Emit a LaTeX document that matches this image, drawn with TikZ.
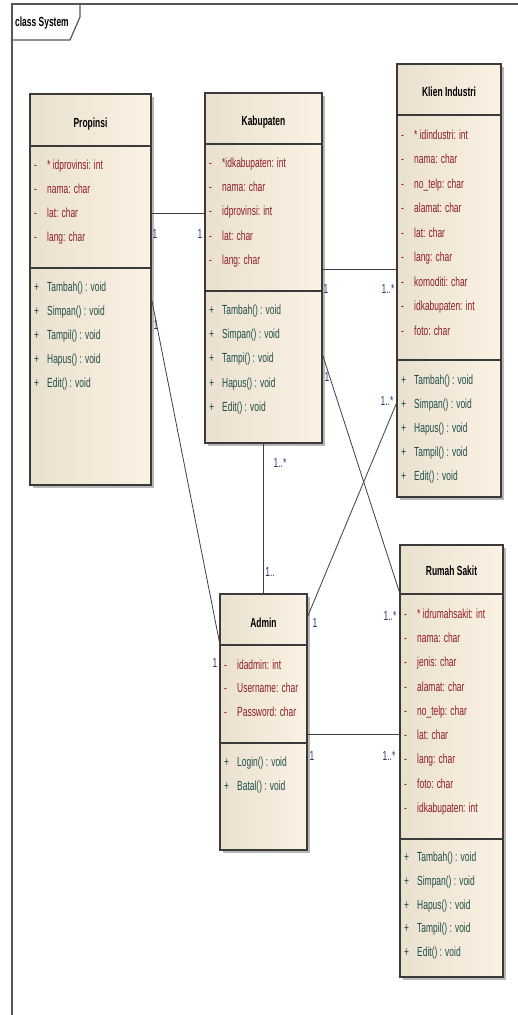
\documentclass[tikz,border=0pt]{standalone}
\usepackage{fontspec}
\setmainfont{Liberation Sans}[FakeStretch=0.64]
\usetikzlibrary{shadows}
\definecolor{creamL}{HTML}{EAE0CF}
\definecolor{creamR}{HTML}{FCF2E4}
\definecolor{boxline}{HTML}{3A3A3A}
\definecolor{attrcol}{HTML}{8E1B2C}
\definecolor{opcol}{HTML}{1E4F4A}
\definecolor{multcol}{HTML}{34346E}
\definecolor{framecol}{HTML}{555555}
\tikzset{
  txt/.style={inner sep=0pt, font=\fontsize{13.2}{15}\selectfont, text height=9.5pt, text depth=2.6pt},
  classbox/.style={draw=boxline, line width=1.4pt, left color=creamL, right color=creamR,
    anchor=north west, inner sep=0pt, outer sep=0pt,
    drop shadow={shadow xshift=2.5pt, shadow yshift=-2.5pt, fill=black!35, opacity=0.8}},
  compline/.style={draw=boxline, line width=1.4pt},
  ctitle/.style={txt, font=\fontsize{13.2}{15}\selectfont\bfseries, text=black},
  attr/.style={txt, anchor=west, text=attrcol},
  op/.style={txt, anchor=west, text=opcol},
  assoc/.style={draw=black!75, line width=0.8pt},
  mult/.style={txt, text=multcol},
}
% #1 prefix, #2 marker x, #3 text x, #4 first y, #5 step, #6 marker, #7 style, #8 list
\newcommand\classrows[8]{%
  \foreach \t [count=\i] in {#8} {%
    \node[#7] (#1m\i) at (#2,{#4+(\i-1)*#5}) {#6};
    \node[#7] (#1t\i) at (#3,{#4+(\i-1)*#5}) {\t};
  }%
}
\begin{document}
\begin{tikzpicture}[x=1pt,y=-1pt]
\fill[white] (0,0) rectangle (518,1015);
\useasboundingbox (0,0) rectangle (518,1015);

% frame
\draw[framecol, line width=1.5pt] (12,1015) -- (12,4) -- (518,4);
\draw[framecol, line width=1.2pt] (12,40) -- (70,40) -- (80,17) -- (80,4);
\node[ctitle, anchor=west] (frametitle) at (15,23) {class System};

% boxes
\node[classbox, minimum width=121pt, minimum height=391pt] (prop) at (30,94) {};
\node[classbox, minimum width=117pt, minimum height=350pt] (kab) at (205,93) {};
\node[classbox, minimum width=104pt, minimum height=433pt] (klien) at (397,64) {};
\node[classbox, minimum width=103pt, minimum height=432pt] (rs) at (400,545) {};
\node[classbox, minimum width=87pt, minimum height=256pt] (admin) at (220,594) {};

% compartments
\draw[compline] ([yshift=-52pt]prop.north west) -- ([yshift=-52pt]prop.north east);
\draw[compline] ([yshift=-174pt]prop.north west) -- ([yshift=-174pt]prop.north east);
\draw[compline] ([yshift=-51pt]kab.north west) -- ([yshift=-51pt]kab.north east);
\draw[compline] ([yshift=-198pt]kab.north west) -- ([yshift=-198pt]kab.north east);
\draw[compline] ([yshift=-51pt]klien.north west) -- ([yshift=-51pt]klien.north east);
\draw[compline] ([yshift=-296pt]klien.north west) -- ([yshift=-296pt]klien.north east);
\draw[compline] ([yshift=-49pt]rs.north west) -- ([yshift=-49pt]rs.north east);
\draw[compline] ([yshift=-294pt]rs.north west) -- ([yshift=-294pt]rs.north east);
\draw[compline] ([yshift=-51pt]admin.north west) -- ([yshift=-51pt]admin.north east);
\draw[compline] ([yshift=-149pt]admin.north west) -- ([yshift=-149pt]admin.north east);

% titles
\node[ctitle] (propT) at (90.5,124) {Propinsi};
\node[ctitle] (kabT) at (263.5,122) {Kabupaten};
\node[ctitle] (klienT) at (449,93) {Klien Industri};
\node[ctitle] (rsT) at (451.5,572) {Rumah Sakit};
\node[ctitle] (adminT) at (263.5,624) {Admin};

% Propinsi
\classrows{pa}{34}{47}{166}{24}{-}{attr}{* idprovinsi: int, nama: char, lat: char, lang: char}
\classrows{po}{34}{47}{288}{24}{+}{op}{Tambah() : void, Simpan() : void, Tampil() : void, Hapus() : void, Edit() : void}
% Kabupaten
\classrows{ka}{209}{222}{164}{24.25}{-}{attr}{*idkabupaten: int, nama: char, idprovinsi: int, lat: char, lang: char}
\classrows{ko}{209}{222}{311}{24.2}{+}{op}{Tambah() : void, Simpan() : void, Tampi() : void, Hapus() : void, Edit() : void}
% Klien Industri
\classrows{ia}{401}{414}{136}{24.5}{-}{attr}{* idindustri: int, nama: char, no\_telp: char, alamat: char, lat: char, lang: char, komoditi: char, idkabupaten: int, foto: char}
\classrows{io}{401}{414}{381}{24}{+}{op}{Tambah() : void, Simpan() : void, Hapus() : void, Tampil() : void, Edit() : void}
% Rumah Sakit
\classrows{ra}{404}{417}{615}{24.25}{-}{attr}{* idrumahsakit: int, nama: char, jenis: char, alamat: char, no\_telp: char, lat: char, lang: char, foto: char, idkabupaten: int}
\classrows{ro}{404}{417}{858}{23.8}{+}{op}{Tambah() : void, Simpan() : void, Hapus() : void, Tampil() : void, Edit() : void}
% Admin
\classrows{aa}{224}{237}{666}{23.5}{-}{attr}{idadmin: int, Username: char, Password: char}
\classrows{ao}{224}{237}{763}{24}{+}{op}{Login() : void, Batal() : void}

% associations
\draw[assoc] ([yshift=-119pt]prop.north east) -- ([yshift=-120pt]kab.north west);
\draw[assoc] ([yshift=-176pt]kab.north east) -- ([yshift=-205pt]klien.north west);
\draw[assoc] ([yshift=-202pt]prop.north east) -- ([yshift=-51pt]admin.north west);
\draw[assoc] (kab.south) -- (admin.north);
\draw[assoc] ([yshift=-260pt]kab.north east) -- ([yshift=-49pt]rs.north west);
\draw[assoc] ([yshift=-24pt]admin.north east) -- ([yshift=-338pt]klien.north west);
\draw[assoc] ([yshift=-140pt]admin.north east) -- ([yshift=-189pt]rs.north west);

% multiplicities
\node[mult] (m1) at (155,235) {1};
\node[mult] (m2) at (200,235) {1};
\node[mult] (m3) at (326,290) {1};
\node[mult] (m4) at (388,290) {1..*};
\node[mult] (m5) at (156,326) {1};
\node[mult] (m6) at (215,664) {1};
\node[mult] (m7) at (280,464) {1..*};
\node[mult] (m8) at (270,573) {1..};
\node[mult] (m9) at (327,378) {1};
\node[mult] (m10) at (390,617) {1..*};
\node[mult] (m11) at (315,624) {1};
\node[mult] (m12) at (387,402) {1..*};
\node[mult] (m13) at (312,757) {1};
\node[mult] (m14) at (389,757) {1..*};
\end{tikzpicture}
\end{document}
